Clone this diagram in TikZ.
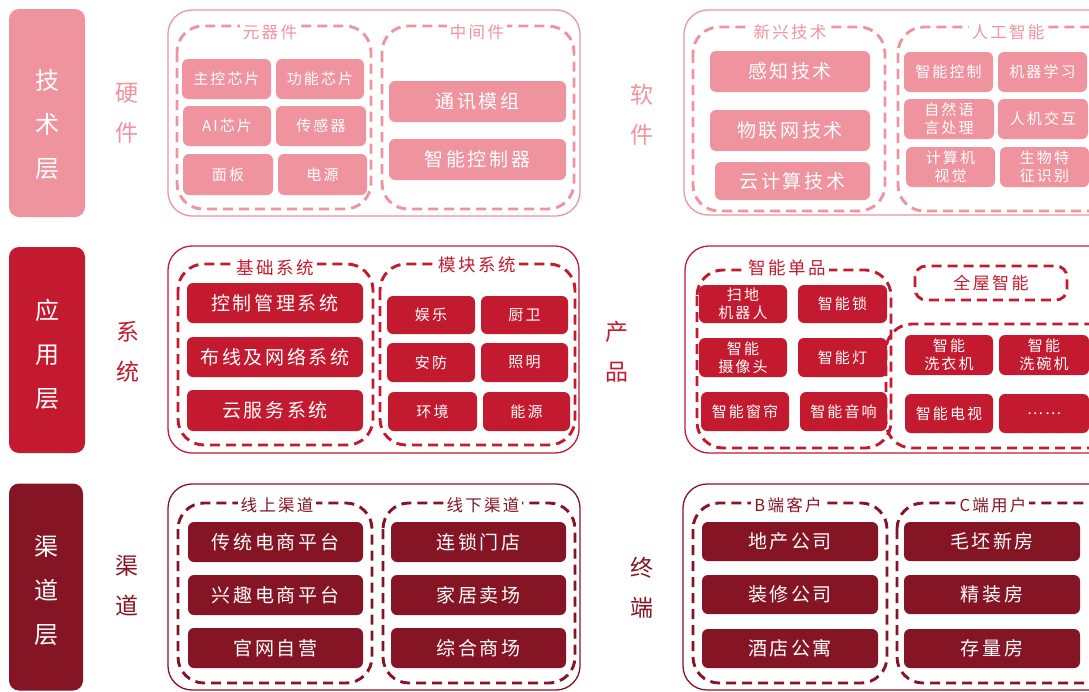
\documentclass[tikz,border=0pt]{standalone}
\usepackage{fontspec}
\newfontfamily\cjk[LetterSpace=14]{Noto Sans CJK SC}
\definecolor{pk}{HTML}{EF949E}
\definecolor{rd}{HTML}{C41A2F}
\definecolor{dk}{HTML}{851424}
\tikzset{
  band/.style={fill=#1, rounded corners=10pt, inner sep=0pt, text=white, align=center,
    font=\cjk\fontsize{24}{44}\selectfont},
  side/.style={text=#1, align=center, inner sep=0pt, font=\cjk\fontsize{23}{40}\selectfont},
  outer/.style={draw=#1, line width=1.3pt, rounded corners=24pt},
  dreg/.style={draw=#1, line width=2.9pt, dash pattern=on 10pt off 6pt, rounded corners=26pt},
  dlab/.style={fill=white, inner sep=3pt, text=#1, font=\cjk\fontsize{16.5}{18}\selectfont},
  dlabb/.style={fill=white, inner sep=3pt, text=#1, font=\cjk\fontsize{17.5}{20}\selectfont},
  item/.style={fill=#1, rounded corners=6pt, text=white, inner sep=0pt, align=center},
  bigtxt/.style={font=\cjk\fontsize{19}{22}\selectfont},
  smltxt/.style={font=\cjk\fontsize{15}{18}\selectfont},
}
\newcommand\ibox[7]{%
  \node[item=#2, minimum width={(#5-#3)*1pt}, minimum height={(#6-#4)*1pt}]
    (#1) at ({(#3+#5)/2},{(#4+#6)/2}) {#7};}
\begin{document}
\begin{tikzpicture}[x=1pt,y=-1pt]
\useasboundingbox (0,0) rectangle (1089,691);
\fill[white] (0,0) rectangle (1089,691);
\clip (0,0) rectangle (1089,691);

% ================= top row: 技术层 =================
\node[band=pk, minimum width=76pt, minimum height=208pt] (b1) at (47,113) {};
\node[text=white, align=center, inner sep=0pt, font=\cjk\fontsize{24}{44}\selectfont] (b1t) at (47,124) {技\\术\\层};
\node[side=pk] (s1) at (127,113) {硬\\件};
\node[side=pk] (s2) at (642,115) {软\\件};

\draw[outer=pk] (168,10) rectangle (580,216);
\draw[dreg=pk] (177,26) rectangle (371,209);
\node[dlab=pk] (l1) at (270,32) {元器件};
\draw[dreg=pk] (382,26) rectangle (574,209);
\node[dlab=pk] (l2) at (477,32) {中间件};

\begin{scope}[every node/.append style={smltxt}]
\ibox{h1}{pk}{182}{59}{271}{99}{主控芯片}
\ibox{h2}{pk}{276}{59}{364}{99}{功能芯片}
\ibox{h3}{pk}{183}{106}{271}{146}{AI芯片}
\ibox{h4}{pk}{276}{106}{366}{146}{传感器}
\ibox{h5}{pk}{183}{154}{273}{195}{面板}
\ibox{h6}{pk}{278}{154}{367}{195}{电源}
\end{scope}
\begin{scope}[every node/.append style={bigtxt}]
\ibox{m1}{pk}{389}{81}{566}{122}{通讯模组}
\ibox{m2}{pk}{389}{139}{566}{180}{智能控制器}
\end{scope}

\draw[outer=pk] (684,10) rectangle (1120,215);
\draw[dreg=pk] (693,27) rectangle (885,211);
\node[dlab=pk] (l3) at (790,32) {新兴技术};
\draw[dreg=pk] (898,27) rectangle (1120,211);
\node[dlab=pk] (l4) at (1008,32) {人工智能};

\begin{scope}[every node/.append style={bigtxt}]
\ibox{e1}{pk}{710}{51}{870}{92}{感知技术}
\ibox{e2}{pk}{710}{110}{870}{151}{物联网技术}
\ibox{e3}{pk}{715}{162}{870}{200}{云计算技术}
\end{scope}
\begin{scope}[every node/.append style={smltxt}]
\ibox{a1}{pk}{904}{52}{993}{92}{智能控制}
\ibox{a2}{pk}{998}{52}{1087}{92}{机器学习}
\ibox{a3}{pk}{904}{99}{994}{139}{自然语\\言处理}
\ibox{a4}{pk}{998}{99}{1088}{139}{人机交互}
\ibox{a5}{pk}{906}{147}{995}{187}{计算机\\视觉}
\ibox{a6}{pk}{1000}{147}{1089}{187}{生物特\\征识别}
\end{scope}

% ================= middle row: 应用层 =================
\node[band=rd, minimum width=76pt, minimum height=206pt] (b2) at (47,350) {};
\node[text=white, align=center, inner sep=0pt, font=\cjk\fontsize{24}{44}\selectfont] (b2t) at (47,354) {应\\用\\层};
\node[side=rd] (s3) at (128,352) {系\\统};
\node[side=rd] (s4) at (617,352) {产\\品};

\draw[outer=rd] (168,246) rectangle (579,453);
\draw[dreg=rd] (178,264) rectangle (373,445);
\node[dlabb=rd] (l5) at (275,268) {基础系统};
\draw[dreg=rd] (380,264) rectangle (575,445);
\node[dlabb=rd] (l6) at (477,265) {模块系统};

\begin{scope}[every node/.append style={bigtxt}]
\ibox{c1}{rd}{187}{283}{363}{323}{控制管理系统}
\ibox{c2}{rd}{187}{337}{363}{377}{布线及网络系统}
\ibox{c3}{rd}{187}{390}{363}{431}{云服务系统}
\end{scope}
\begin{scope}[every node/.append style={smltxt}]
\ibox{k1}{rd}{387}{296}{475}{334}{娱乐}
\ibox{k2}{rd}{481}{296}{568}{334}{厨卫}
\ibox{k3}{rd}{387}{343}{475}{382}{安防}
\ibox{k4}{rd}{481}{343}{568}{382}{照明}
\ibox{k5}{rd}{388}{392}{477}{431}{环境}
\ibox{k6}{rd}{483}{392}{570}{431}{能源}
\end{scope}

\draw[outer=rd] (685,246) rectangle (1120,453);
\draw[dreg=rd] (697,270) rectangle (891,448);
\node[dlabb=rd] (l7) at (787,268) {智能单品};
\draw[dreg=rd] (886,324) rectangle (1120,448);
\draw[dreg=rd, rounded corners=11pt] (915,266) rectangle (1067,300);
\node[text=rd, inner sep=0pt, font=\cjk\fontsize{17}{20}\selectfont] (l8) at (991,283) {全屋智能};

\begin{scope}[every node/.append style={smltxt}]
\ibox{p1}{rd}{699}{285}{787}{323}{扫地\\机器人}
\ibox{p2}{rd}{798}{285}{887}{323}{智能锁}
\ibox{p3}{rd}{699}{338}{787}{377}{智能\\摄像头}
\ibox{p4}{rd}{798}{338}{887}{377}{智能灯}
\ibox{p5}{rd}{701}{392}{789}{431}{智能窗帘}
\ibox{p6}{rd}{800}{392}{887}{431}{智能音响}
\ibox{p7}{rd}{905}{335}{993}{375}{智能\\洗衣机}
\ibox{p8}{rd}{999}{335}{1089}{375}{智能\\洗碗机}
\ibox{p9}{rd}{905}{394}{993}{433}{智能电视}
\ibox{p10}{rd}{999}{394}{1089}{433}{……}
\end{scope}

% ================= bottom row: 渠道层 =================
\node[band=dk, minimum width=74pt, minimum height=207pt] (b3) at (46,587) {};
\node[text=white, align=center, inner sep=0pt, font=\cjk\fontsize{24}{44}\selectfont] (b3t) at (46,590) {渠\\道\\层};
\node[side=dk] (s5) at (127,586) {渠\\道};
\node[side=dk] (s6) at (642,588) {终\\端};

\draw[outer=dk] (168,484) rectangle (580,690);
\draw[dreg=dk] (178,503) rectangle (372,683);
\node[dlab=dk] (l9) at (277,505) {线上渠道};
\draw[dreg=dk] (383,503) rectangle (575,683);
\node[dlab=dk] (l10) at (483,505) {线下渠道};

\begin{scope}[every node/.append style={bigtxt}]
\ibox{q1}{dk}{188}{522}{363}{562}{传统电商平台}
\ibox{q2}{dk}{188}{575}{363}{615}{兴趣电商平台}
\ibox{q3}{dk}{188}{628}{363}{668}{官网自营}
\ibox{q4}{dk}{391}{522}{566}{562}{连锁门店}
\ibox{q5}{dk}{391}{575}{566}{615}{家居卖场}
\ibox{q6}{dk}{391}{628}{566}{668}{综合商场}
\end{scope}

\draw[outer=dk] (683,484) rectangle (1120,690);
\draw[dreg=dk] (693,503) rectangle (887,683);
\node[dlab=dk] (l11) at (788,505) {B端客户};
\draw[dreg=dk] (897,503) rectangle (1120,683);
\node[dlab=dk] (l12) at (993,505) {C端用户};

\begin{scope}[every node/.append style={bigtxt}]
\ibox{t1}{dk}{702}{522}{878}{561}{地产公司}
\ibox{t2}{dk}{702}{575}{878}{614}{装修公司}
\ibox{t3}{dk}{702}{629}{878}{668}{酒店公寓}
\ibox{t4}{dk}{904}{522}{1080}{561}{毛坯新房}
\ibox{t5}{dk}{904}{575}{1080}{614}{精装房}
\ibox{t6}{dk}{904}{629}{1080}{668}{存量房}
\end{scope}
\end{tikzpicture}
\end{document}
